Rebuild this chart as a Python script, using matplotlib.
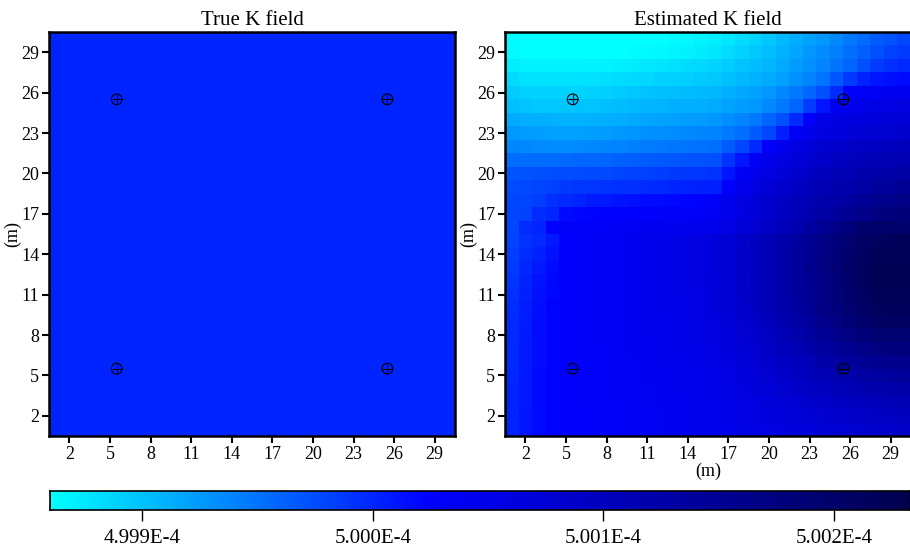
import numpy as np
import matplotlib
matplotlib.use("Agg")
import matplotlib.pyplot as plt
from matplotlib.colors import LinearSegmentedColormap, Normalize

plt.rcParams['font.family'] = ['Liberation Serif', 'DejaVu Serif']

# ---- data ----
base_k = 5.000e-4          # reference conductivity
unit = 1e-9                # values below are offsets from base_k in units of 1e-9
true_offset = 0            # true field is uniform at 5.000E-4
vmin_off, vmax_off = -140, 233

# estimated field, rows listed from y=30 (top) down to y=1 (bottom), columns x=1..30
est_rows = [
    [-138,-140,-140,-140,-140,-140,-140,-140,-140,-140,-140,-139,-137,-135,-132,-128,-123,-118,-111,-104,-96,-87,-80,-73,-64,-54,-45,-35,-28,-21],
    [-136,-139,-140,-140,-140,-140,-140,-140,-139,-138,-137,-135,-133,-130,-127,-123,-118,-112,-105,-98,-90,-82,-74,-66,-57,-47,-37,-27,-18,-12],
    [-128,-131,-132,-132,-132,-132,-131,-130,-129,-127,-125,-123,-121,-118,-115,-112,-107,-102,-97,-92,-85,-77,-69,-60,-50,-40,-27,-14,-7,-2],
    [-116,-120,-122,-122,-122,-121,-120,-119,-118,-116,-114,-112,-110,-108,-106,-104,-99,-95,-90,-86,-79,-70,-60,-50,-32,-12,2,11,15,18],
    [-106,-110,-112,-112,-112,-111,-110,-108,-106,-104,-102,-100,-99,-97,-96,-94,-89,-84,-79,-73,-64,-53,-41,-27,-4,26,32,36,40,42],
    [-98,-102,-104,-104,-103,-102,-101,-99,-97,-95,-93,-91,-89,-88,-87,-86,-81,-77,-73,-64,-53,-40,-14,11,40,46,50,54,57,60],
    [-86,-88,-89,-90,-91,-91,-90,-89,-87,-85,-83,-81,-79,-77,-75,-73,-66,-60,-53,-40,-27,-2,30,52,58,62,65,68,70,72],
    [-74,-77,-78,-79,-79,-79,-78,-76,-74,-72,-70,-68,-66,-64,-62,-60,-54,-47,-35,-21,5,36,50,60,65,70,74,78,81,84],
    [-62,-64,-65,-66,-66,-65,-64,-62,-60,-58,-56,-54,-52,-50,-49,-47,-34,-21,-2,30,46,60,68,76,83,90,93,96,99,102],
    [-46,-46,-45,-44,-43,-42,-41,-40,-38,-36,-34,-33,-31,-30,-28,-27,-8,11,36,48,60,69,78,87,96,101,105,108,111,114],
    [-30,-28,-27,-26,-25,-24,-23,-22,-20,-19,-17,-15,-13,-11,-10,-8,11,36,48,60,71,82,92,102,108,113,118,123,127,131],
    [-24,-22,-20,-17,-12,-10,-9,-8,-7,-6,-4,-2,0,2,3,5,30,45,60,72,84,93,102,110,118,125,132,138,144,149],
    [-21,-20,-16,-6,-2,2,8,10,12,14,16,18,20,22,25,30,45,60,71,82,92,102,111,120,129,137,146,154,161,167],
    [-21,-18,-4,0,18,21,23,24,25,26,27,29,30,32,34,36,48,60,72,84,96,108,120,131,142,153,163,173,179,185],
    [-21,-4,0,24,28,30,32,34,36,38,40,42,44,45,46,48,58,68,79,90,104,119,134,149,165,182,197,200,200,198],
    [-20,-8,-2,10,25,30,33,36,39,42,45,48,52,56,60,66,76,86,98,110,124,138,152,166,180,194,206,214,218,218],
    [-16,-4,4,14,26,30,33,36,39,42,45,48,52,56,60,66,76,87,99,112,126,140,155,170,185,199,210,218,222,221],
    [-12,-1,8,18,26,30,33,36,39,42,45,48,52,56,60,66,76,87,99,112,126,141,156,171,187,201,213,222,225,224],
    [-9,2,12,20,26,30,33,36,39,42,45,48,52,55,59,65,75,86,98,111,125,140,155,170,186,200,213,222,226,225],
    [-7,4,14,21,26,30,33,36,39,42,45,48,51,54,58,64,74,85,97,110,124,139,154,169,184,198,211,220,224,223],
    [-5,6,15,22,26,30,33,36,39,42,45,47,50,53,57,63,73,83,95,108,121,135,150,165,180,194,206,215,219,218],
    [-4,7,16,22,26,29,32,35,38,41,44,46,49,52,56,61,70,80,91,103,116,130,144,158,172,186,197,206,210,209],
    [-3,8,16,22,26,29,32,35,38,41,43,45,48,51,54,59,67,76,86,97,109,122,135,148,161,173,183,191,195,195],
    [-2,9,17,23,26,29,32,34,37,40,42,44,47,50,53,57,64,72,81,91,102,113,124,136,147,157,166,173,177,178],
    [-2,9,17,23,26,29,31,34,36,39,41,43,46,48,51,55,61,68,76,85,94,103,113,123,132,141,149,155,159,160],
    [-1,10,18,23,26,28,31,33,36,38,40,42,44,46,49,52,58,64,71,78,86,94,102,110,118,125,131,136,140,142],
    [0,10,18,23,26,28,30,33,35,37,39,41,43,45,47,50,55,60,66,72,78,85,92,98,105,111,116,121,124,126],
    [0,10,18,23,25,28,30,32,34,36,38,40,42,44,46,48,52,56,61,66,71,77,82,87,92,97,102,106,109,111],
    [1,11,18,23,25,27,29,31,33,35,37,39,41,43,45,47,50,54,58,62,66,70,74,78,82,86,90,94,97,99],
    [1,11,18,22,25,27,29,31,33,35,37,39,41,43,44,46,49,52,55,58,61,64,67,70,73,76,79,82,85,88],
]

well_x = [5.5, 25.5, 5.5, 25.5]
well_y = [25.5, 25.5, 5.5, 5.5]

tick_vals = [2, 5, 8, 11, 14, 17, 20, 23, 26, 29]
cbar_ticks = [4.999e-4, 5.000e-4, 5.001e-4, 5.002e-4]
cbar_labels = ['4.999E-4', '5.000E-4', '5.001E-4', '5.002E-4']
titles = ['True K field', 'Estimated K field']

# ---- build fields (drawn in offset units to keep float precision) ----
est_off = np.array(est_rows, dtype=float)
true_off = np.full_like(est_off, true_offset)
norm = Normalize(vmin=vmin_off, vmax=vmax_off)
cbar_tick_off = [round((t - base_k) / unit, 6) for t in cbar_ticks]

cmap = LinearSegmentedColormap.from_list(
    'k', [(0.0, (0, 1, 1)), (0.44, (0, 0, 1)), (1.0, (0, 0, 0.31))])

fig = plt.figure(figsize=(9.1, 5.55), dpi=100)
ax1 = fig.add_axes([49/910, 119/555, 406/910, 404/555])
ax2 = fig.add_axes([505/910, 119/555, 406/910, 404/555])
cax = fig.add_axes([50/910, 45/555, 860/910, 19/555])

for ax, field, title in zip([ax1, ax2], [true_off, est_off], titles):
    ax.imshow(field, cmap=cmap, norm=norm, origin='upper',
              extent=[0.5, 30.5, 0.5, 30.5], aspect='auto',
              interpolation='nearest')
    ax.scatter(well_x, well_y, s=60, facecolors='none', edgecolors='black',
               linewidths=0.8, zorder=3)
    ax.scatter(well_x, well_y, s=60, marker='+', c='black',
               linewidths=0.8, zorder=3)
    ax.set_xticks(tick_vals)
    ax.set_yticks(tick_vals)
    ax.set_xlim(0.5, 30.5)
    ax.set_ylim(0.5, 30.5)
    ax.tick_params(direction='out', length=5, width=1.5, labelsize=13, pad=2)
    for s in ax.spines.values():
        s.set_linewidth(1.8)
    ax.set_title(title, fontsize=15, pad=5)
    ax.set_ylabel('(m)', fontsize=13, labelpad=0)

ax2.set_xlabel('(m)', fontsize=13, labelpad=0)

# colour bar drawn as a gradient image on its own axis
grad = np.linspace(vmin_off, vmax_off, 512).reshape(1, -1)
cax.imshow(grad, cmap=cmap, norm=norm, aspect='auto',
           extent=[vmin_off, vmax_off, 0, 1], interpolation='bilinear')
cax.set_xlim(vmin_off, vmax_off)
cax.set_ylim(0, 1)
cax.set_yticks([])
cax.set_xticks(cbar_tick_off)
cax.set_xticklabels(cbar_labels)
cax.tick_params(axis='x', direction='out', length=8, width=1, labelsize=15, pad=6)
for s in cax.spines.values():
    s.set_linewidth(1.2)

fig.savefig('out.png', dpi=100)
